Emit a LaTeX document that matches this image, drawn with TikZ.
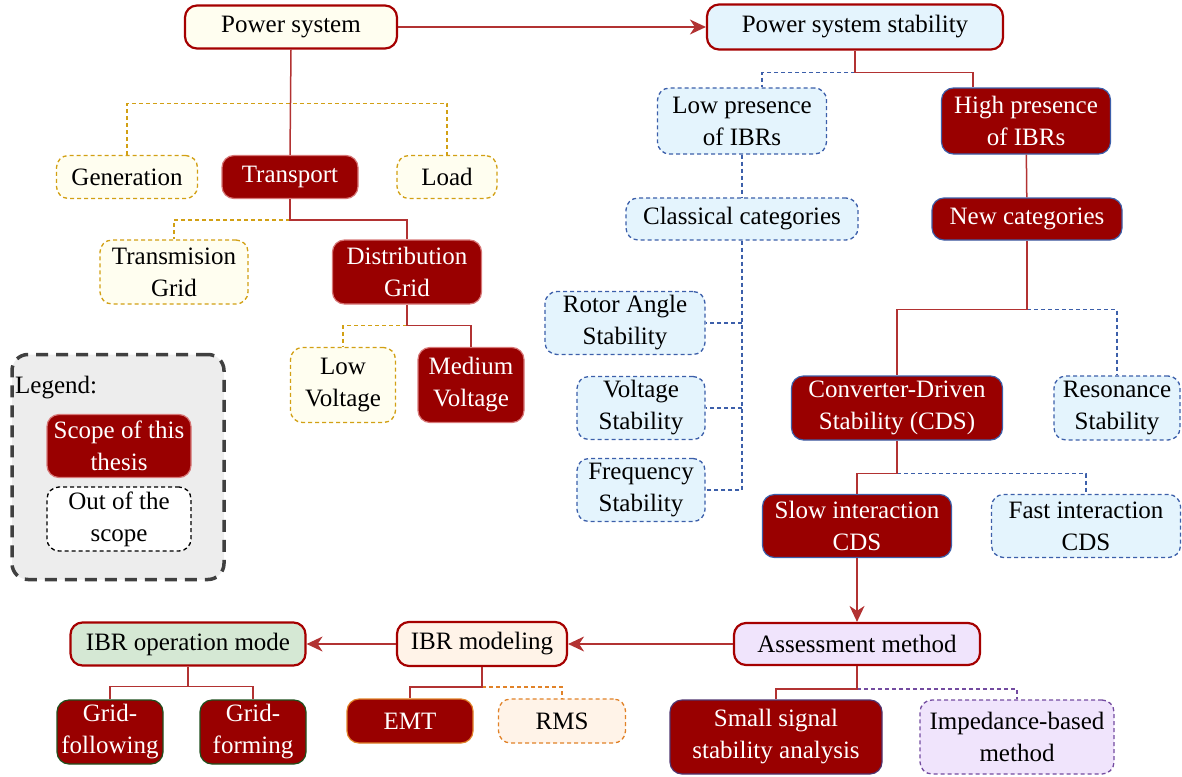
\documentclass[tikz,border=0pt]{standalone}
\usepackage{fontspec}
\setmainfont{Liberation Serif}
\usetikzlibrary{arrows.meta}
\tikzset{>={Stealth[length=16pt,width=15pt,inset=5pt]}}

\definecolor{dred}{RGB}{153,0,0}
\definecolor{bred}{RGB}{165,0,0}
\definecolor{eline}{RGB}{178,50,50}
\definecolor{pinkline}{RGB}{215,120,120}
\definecolor{lyellow}{RGB}{255,254,240}
\definecolor{ygold}{RGB}{210,160,20}
\definecolor{lblue}{RGB}{228,244,253}
\definecolor{bblue}{RGB}{60,95,170}
\definecolor{lpurple}{RGB}{240,228,252}
\definecolor{ppurple}{RGB}{115,75,160}
\definecolor{lorange}{RGB}{255,243,232}
\definecolor{oorange}{RGB}{225,130,40}
\definecolor{lgreen}{RGB}{213,232,212}
\definecolor{dgreen}{RGB}{30,80,30}
\definecolor{lgray}{RGB}{237,237,237}
\definecolor{dgray}{RGB}{64,64,64}

\begin{document}
\begin{tikzpicture}[x=1pt, y=-1pt,
  base/.style={rounded corners=12pt, align=center, inner sep=2pt, font=\fontsize{25}{32}\selectfont},
  thesis/.style={base, fill=dred, text=white, draw=#1, line width=1.2pt},
  thesis/.default=pinkline,
  light/.style={base, fill=#1, draw=bred, line width=2.2pt},
  outof/.style={base, fill=#1, line width=1.3pt, dash pattern=on 4pt off 3pt},
  sline/.style={draw=eline, line width=1.5pt},
  yline/.style={draw=ygold, line width=1.5pt, dash pattern=on 4pt off 3pt},
  bline/.style={draw=bblue, line width=1.5pt, dash pattern=on 4pt off 3pt},
  pline/.style={draw=ppurple, line width=1.5pt, dash pattern=on 4pt off 3pt},
  oline/.style={draw=oorange, line width=1.5pt, dash pattern=on 4pt off 3pt}]

\useasboundingbox (0,0) rectangle (1182,776);

% Power system side
\node[light=lyellow, minimum width=212, minimum height=43] (ps) at (291,27) {Power system};
\node[outof=lyellow, draw=ygold, minimum width=141, minimum height=43] (gen) at (127,177) {Generation};
\node[thesis, minimum width=136, minimum height=43] (tr) at (290,177) {Transport};
\node[outof=lyellow, draw=ygold, minimum width=100, minimum height=43] (load) at (447,177) {Load};
\node[outof=lyellow, draw=ygold, minimum width=148, minimum height=64] (trg) at (174,272) {Transmision\\Grid};
\node[thesis, minimum width=149, minimum height=64] (dg) at (407,272) {Distribution\\Grid};
\node[outof=lyellow, draw=ygold, minimum width=105, minimum height=75] (lv) at (343,385) {Low\\Voltage};
\node[thesis, minimum width=106, minimum height=75] (mv) at (471,385) {Medium\\Voltage};

% Legend
\node[rounded corners=16pt, fill=lgray, draw=dgray, line width=3.5pt, dash pattern=on 12pt off 8pt, minimum width=212, minimum height=225] (leg) at (118,467) {};
\node[font=\fontsize{25}{32}\selectfont, anchor=base west, inner sep=0pt] (legt) at (15,393) {Legend:};
\node[thesis, minimum width=144, minimum height=63] (inscope) at (119,446) {Scope of this\\thesis};
\node[outof=white, draw=black, minimum width=144, minimum height=64] (outscope) at (119,519) {Out of the\\scope};

% Stability side
\node[light=lblue, minimum width=296, minimum height=45] (pss) at (855,27) {Power system stability};
\node[outof=lblue, draw=bblue, minimum width=169, minimum height=66] (low) at (742,121) {Low presence\\of IBRs};
\node[thesis=bblue, minimum width=169, minimum height=66] (high) at (1026,121) {High presence\\of IBRs};
\node[outof=lblue, draw=bblue, minimum width=232, minimum height=42] (cc) at (742,219) {Classical categories};
\node[thesis=bblue, minimum width=190, minimum height=42] (nc) at (1027,219) {New categories};
\node[outof=lblue, draw=bblue, minimum width=160, minimum height=63] (ra) at (625,323) {Rotor Angle\\Stability};
\node[outof=lblue, draw=bblue, minimum width=128, minimum height=63] (vs) at (641,408) {Voltage\\Stability};
\node[outof=lblue, draw=bblue, minimum width=128, minimum height=63] (fs) at (641,490) {Frequency\\Stability};
\node[thesis=bblue, minimum width=211, minimum height=64] (cds) at (897,408) {Converter-Driven\\Stability (CDS)};
\node[outof=lblue, draw=bblue, minimum width=126, minimum height=64] (rs) at (1117,408) {Resonance\\Stability};
\node[thesis=bblue, minimum width=189, minimum height=63] (slow) at (857,526) {Slow interaction\\CDS};
\node[outof=lblue, draw=bblue, minimum width=189, minimum height=63] (fast) at (1086,526) {Fast interaction\\CDS};

% Assessment and modeling
\node[light=lpurple, minimum width=246, minimum height=42] (am) at (857,644) {Assessment method};
\node[thesis=ppurple!70!black, minimum width=212, minimum height=74] (ssa) at (776,737) {Small signal\\stability analysis};
\node[outof=lpurple, draw=ppurple, minimum width=194, minimum height=74] (imp) at (1017,737) {Impedance-based\\method};
\node[light=lorange, minimum width=170, minimum height=44] (ibrm) at (482,644) {IBR modeling};
\node[thesis=oorange, minimum width=126, minimum height=44] (emt) at (410,721) {EMT};
\node[outof=lorange, draw=oorange, minimum width=127, minimum height=44] (rms) at (562,721) {RMS};
\node[light=lgreen, minimum width=235, minimum height=43] (ibro) at (188,644) {IBR operation mode};
\node[thesis=dgreen, minimum width=106, minimum height=64] (gfl) at (110,732) {Grid-\\following};
\node[thesis=dgreen, minimum width=106, minimum height=64] (gfm) at (253,732) {Grid-\\forming};

% Connectors
\draw[sline,->] (ps) -- (pss);
\draw[yline] (gen.north) |- ([yshift=-54pt]ps.south) -| (load.north);
\draw[sline] (ps.south) -- (tr.north);
\draw[yline] (tr.south) ++(0,21) -| (trg.north);
\draw[sline] (tr.south) -- ++(0,21) -| (dg.north);
\draw[yline] (dg.south) ++(0,21) -| (lv.north);
\draw[sline] (dg.south) -- ++(0,21) -| (mv.north);

\draw[bline] (pss.south) ++(0,22) -| ([xshift=20pt]low.north);
\draw[sline] (pss.south) -- ++(0,22) -| ([xshift=-53pt]high.north);
\draw[bline] (low) -- (cc);
\draw[sline] (high) -- (nc);
\draw[bline] (cc.south) -- (cc.south |- fs.east) -- (fs.east);
\draw[bline] (cc.south |- ra.east) -- (ra.east);
\draw[bline] (cc.south |- vs.east) -- (vs.east);
\draw[bline] (nc.south) ++(0,69) -| (rs.north);
\draw[sline] (nc.south) -- ++(0,69) -| (cds.north);
\draw[bline] (cds.south) ++(0,33) -| (fast.north);
\draw[sline] (cds.south) -- ++(0,33) -| (slow.north);
\draw[sline,->] (slow) -- (am);

\draw[pline] (am.south) ++(0,23) -| (imp.north);
\draw[sline] (am.south) -- ++(0,23) -| (ssa.north);
\draw[sline,->] (am) -- (ibrm);
\draw[oline] (ibrm.south) ++(0,20) -| (rms.north);
\draw[sline] (ibrm.south) -- ++(0,20) -| (emt.north);
\draw[sline,->] (ibrm) -- (ibro);
\draw[sline] (ibro.south) -- ++(0,20) -| (gfl.north);
\draw[sline] (ibro.south) ++(0,20) -| (gfm.north);

\end{tikzpicture}
\end{document}
